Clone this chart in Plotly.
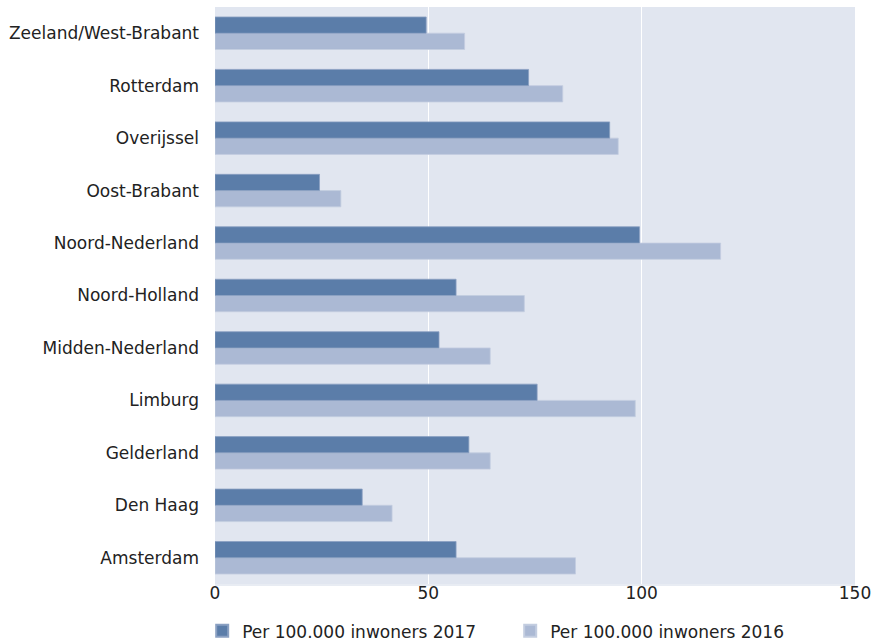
import plotly.graph_objects as go

regions = ["Amsterdam", "Den Haag", "Gelderland", "Limburg", "Midden-Nederland",
           "Noord-Holland", "Noord-Nederland", "Oost-Brabant", "Overijssel",
           "Rotterdam", "Zeeland/West-Brabant"]
per100k_2017 = [56.5, 34.5, 59.5, 75.5, 52.5, 56.5, 99.5, 24.5, 92.5, 73.5, 49.5]
per100k_2016 = [84.5, 41.5, 64.5, 98.5, 64.5, 72.5, 118.5, 29.5, 94.5, 81.5, 58.5]
x_ticks = [0, 50, 100, 150]

FONT = "DejaVu Sans, Verdana, sans-serif"

fig = go.Figure()
fig.add_trace(go.Bar(
    y=regions, x=per100k_2016, orientation="h", name="Per 100.000 inwoners 2016",
    marker=dict(color="#abb9d4", line=dict(color="#c3cde0", width=0.8)), legendrank=2,
))
fig.add_trace(go.Bar(
    y=regions, x=per100k_2017, orientation="h", name="Per 100.000 inwoners 2017",
    marker=dict(color="#5b7da9", line=dict(color="#8aa0c2", width=0.8)), legendrank=1,
))

fig.update_layout(
    width=874, height=641,
    margin=dict(l=215, r=19, t=7, b=57, autoexpand=False),
    paper_bgcolor="white",
    plot_bgcolor="#e1e6f0",
    barmode="group",
    bargap=0.38,
    bargroupgap=0,
    font=dict(family=FONT, size=17, color="#222222"),
    showlegend=True,
    legend=dict(
        orientation="h", x=-0.02, xanchor="left", y=-0.082, yanchor="middle",
        font=dict(family=FONT, size=17, color="#222222"),
        entrywidth=263, entrywidthmode="pixels",
        itemsizing="constant", traceorder="normal",
    ),
    xaxis=dict(
        range=[0, 150], tickvals=x_ticks, ticktext=[str(t) for t in x_ticks],
        showgrid=True, gridcolor="white", gridwidth=1.2,
        zeroline=False, showline=True, linecolor="#e8ecf3", linewidth=2,
        ticks="", ticklabelstandoff=-7, tickfont=dict(size=17, color="#222222"),
        fixedrange=True,
    ),
    yaxis=dict(
        type="category", categoryorder="array", categoryarray=regions,
        showgrid=False, zeroline=False, ticks="", ticklabelstandoff=15,
        tickfont=dict(size=17, color="#222222"),
        fixedrange=True,
    ),
)

fig.write_html("out.html", config={"displayModeBar": False},
               post_script="document.body.style.margin='0px';")
